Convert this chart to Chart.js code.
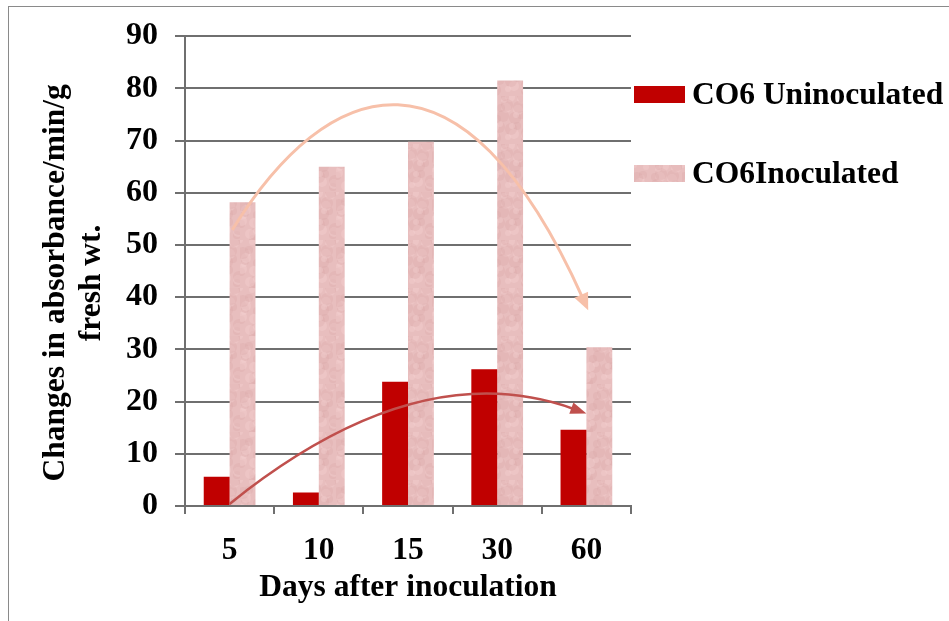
<!DOCTYPE html>
<html lang="en">
<head>
  <meta charset="UTF-8" />
  <title>Changes in absorbance</title>
  <script src="https://cdn.jsdelivr.net/npm/chart.js"></script>
  <style>
    html, body { margin: 0; padding: 0; background: #fff; overflow: hidden; }
    #wrap { position: relative; width: 949px; height: 621px; }
    #frame { position: absolute; left: 8px; top: 6px; width: 1000px; height: 1000px; border: 1.5px solid #8a8a8a; }
    #chart { position: absolute; left: 0; top: 0; }
    .legend { position: absolute; left: 634px; font: bold 31.5px "Liberation Serif", "Times New Roman", serif; color: #000; white-space: nowrap; }
    .legend span.box { position: absolute; left: 0; width: 51px; height: 17px; }
    .legend span.txt { position: absolute; left: 58px; }
  </style>
</head>
<body>
  <div id="wrap">
    <div id="frame"></div>
    <canvas id="chart" width="949" height="621"></canvas>
    <div class="legend" style="top:86px"><span class="box" style="background:#c00000"></span><span class="txt" style="top:-10px">CO6 Uninoculated</span></div>
    <div class="legend" style="top:165px"><span class="box" id="inocBox" style="background:#e8bebe"></span><span class="txt" style="top:-10px">CO6Inoculated</span></div>
  </div>

  <script>
    // data
    const days = ['5', '10', '15', '30', '60'];
    const uninoculated = [5.6, 2.6, 23.8, 26.2, 14.6];
    const inoculated = [58.2, 65, 69.8, 81.5, 30.4];
    const yTicks = [0, 10, 20, 30, 40, 50, 60, 70, 80, 90];

    // trend arrows, in (category index, value) units: start, control1, control2, end
    const peachArrow = [[0.03, 52.9], [1.1, 82.5], [2.6, 91.5], [4.02, 37.5]];
    const redArrow = [[0.0, 0.4], [1.46, 20.5], [2.75, 25.5], [4.0, 17.7]];

    const serif = '"Liberation Serif", "Times New Roman", serif';

    // soft mottled fill like the "pink tissue" texture of the original
    function mottled() {
      const cv = document.createElement('canvas');
      cv.width = 48; cv.height = 48;
      const g = cv.getContext('2d');
      g.fillStyle = '#e8bebe';
      g.fillRect(0, 0, 48, 48);
      for (let i = 0; i < 40; i++) {
        const px = (i * 37) % 48, py = (i * 23 + (i % 5) * 7) % 48;
        g.fillStyle = i % 2 ? 'rgba(214,164,164,0.25)' : 'rgba(246,212,212,0.35)';
        g.beginPath();
        g.arc(px, py, 3 + (i % 4), 0, Math.PI * 2);
        g.fill();
      }
      return cv;
    }
    const tex = mottled();
    const inocFill = tex.getContext('2d').createPattern(tex, 'repeat');
    document.getElementById('inocBox').style.background = 'url(' + tex.toDataURL() + ')';

    function drawArrow(chart, pts, color, width, headLen, headW) {
      const x = chart.scales.x, y = chart.scales.y, c = chart.ctx;
      const p = pts.map(q => [x.getPixelForValue(q[0]), y.getPixelForValue(q[1])]);
      const ang = Math.atan2(p[3][1] - p[2][1], p[3][0] - p[2][0]);
      // stop the line a bit before the tip so the head stays sharp
      const ex = p[3][0] - Math.cos(ang) * headLen * 0.8;
      const ey = p[3][1] - Math.sin(ang) * headLen * 0.8;
      c.save();
      c.strokeStyle = color;
      c.lineWidth = width;
      c.beginPath();
      c.moveTo(p[0][0], p[0][1]);
      c.bezierCurveTo(p[1][0], p[1][1], p[2][0], p[2][1], ex, ey);
      c.stroke();
      c.fillStyle = color;
      c.translate(p[3][0], p[3][1]);
      c.rotate(ang);
      c.beginPath();
      c.moveTo(0, 0);
      c.lineTo(-headLen, -headW / 2);
      c.lineTo(-headLen, headW / 2);
      c.closePath();
      c.fill();
      c.restore();
    }

    const arrows = {
      id: 'arrows',
      afterDatasetsDraw(chart) {
        drawArrow(chart, peachArrow, '#f7c0a9', 3, 17, 15);
        drawArrow(chart, redArrow, '#c0504d', 2.5, 16, 12);
      }
    };

    new Chart(document.getElementById('chart'), {
      type: 'bar',
      data: {
        labels: days,
        datasets: [
          { label: 'CO6 Uninoculated', data: uninoculated, backgroundColor: '#c00000' },
          { label: 'CO6Inoculated', data: inoculated, backgroundColor: inocFill }
        ]
      },
      options: {
        responsive: false,
        animation: false,
        events: [],
        categoryPercentage: 0.58,
        barPercentage: 1.0,
        layout: { padding: { left: 38, top: 27, right: 318, bottom: 14 } },
        plugins: { legend: { display: false }, tooltip: { enabled: false } },
        scales: {
          x: {
            grid: { display: true, offset: true, drawOnChartArea: false, color: '#6f6f6f', lineWidth: 2, tickLength: 8 },
            border: { color: '#6f6f6f', width: 2 },
            ticks: { color: '#000', font: { family: serif, size: 31.5, weight: 'bold' }, padding: 18 },
            title: { display: true, text: 'Days after inoculation', color: '#000', font: { family: serif, size: 31.5, weight: 'bold' }, padding: { top: 0, bottom: 0 } },
            afterFit(s) { s.height = 101; }
          },
          y: {
            min: 0, max: 90,
            afterBuildTicks(s) { s.ticks = yTicks.map(v => ({ value: v })); },
            grid: { color: '#6f6f6f', lineWidth: 2, tickLength: 10 },
            border: { color: '#6f6f6f', width: 2 },
            ticks: { color: '#000', font: { family: serif, size: 32, weight: 'bold' }, padding: 17 },
            // trailing spaces nudge the rotated title a little lower, as in the original
            title: { display: true, text: ['Changes in absorbance/min/g   ', 'fresh wt.   '], color: '#000', font: { family: serif, size: 31.5, weight: 'bold', lineHeight: 1.15 }, padding: { top: 0, bottom: 0 } },
            afterFit(s) { s.width = 147; }
          }
        }
      },
      plugins: [arrows]
    });
  </script>
</body>
</html>
